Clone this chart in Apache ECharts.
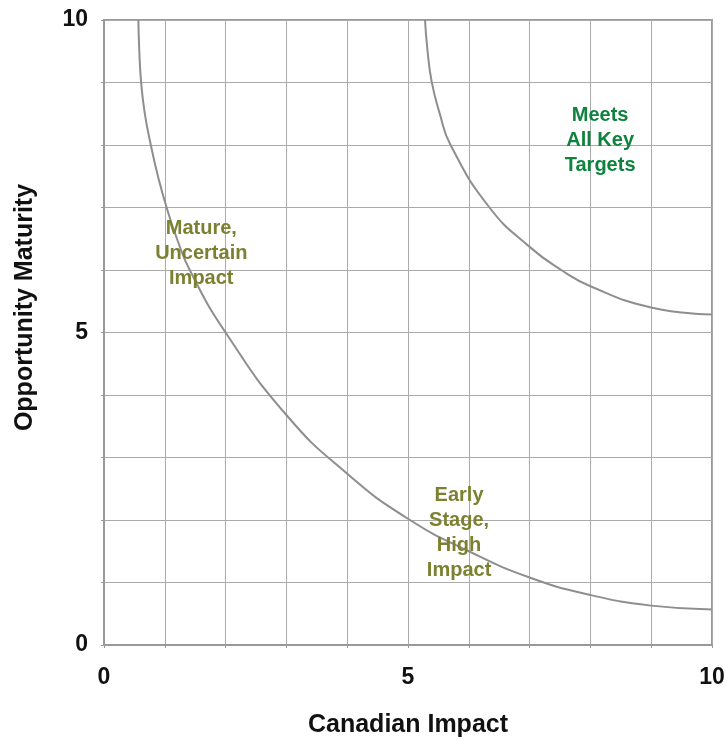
<!DOCTYPE html>
<html>
<head>
<meta charset="utf-8">
<script src="https://cdn.jsdelivr.net/npm/echarts@6/dist/echarts.min.js"></script>
<style>
html,body{margin:0;padding:0;background:#fff;overflow:hidden;}
#chart{width:727px;height:740px;}
</style>
</head>
<body>
<div id="chart"></div>
<script>
// Lower boundary curve (Canadian Impact x, Opportunity Maturity y)
var lowCurveX = [0.565, 0.58, 0.61, 0.67, 0.77, 0.89, 1.03, 1.2, 1.41, 2.0, 3.0, 4.0, 5.0, 6.0, 7.0, 8.0, 9.0, 10.0];
var lowCurveY = [10, 9.52, 9.01, 8.51, 8.0, 7.49, 7.0, 6.5, 6.0, 5.0, 3.68, 2.74, 2.02, 1.50, 1.08, 0.80, 0.63, 0.57];
// Upper boundary curve
var highCurveX = [5.28, 5.32, 5.39, 5.52, 5.70, 6.34, 7.0, 7.52, 8.0, 9.0, 10.0];
var highCurveY = [10, 9.52, 9.01, 8.51, 8.0, 7.0, 6.37, 6.0, 5.74, 5.40, 5.29];
// Region labels
var regionNames = ['Mature,\nUncertain\nImpact', 'Early\nStage,\nHigh\nImpact', 'Meets\nAll Key\nTargets'];
var regionX = [1.60, 5.84, 8.16];
var regionY = [6.27, 1.79, 8.08];
var regionColors = ['#7c8131', '#7c8131', '#0f833d'];
// Axis
var axisMin = 0, axisMax = 10, gridStep = 1;
var tickLabels = [0, 5, 10];

function zip(xs, ys){ return xs.map(function(x,i){ return [x, ys[i]]; }); }

var FONT = 'Arial, "Liberation Sans", sans-serif';
var chart = echarts.init(document.getElementById('chart'));

var labelData = regionNames.map(function(n, i){
  return {
    value: [regionX[i], regionY[i]],
    label: { show: true, formatter: n, color: regionColors[i] }
  };
});

function axisCommon(){
  return {
    type: 'value', min: axisMin, max: axisMax, interval: gridStep,
    axisLine: { show: true, lineStyle: { color: '#999', width: 2 } },
    axisTick: { show: true, length: 3, lineStyle: { color: '#999' } },
    splitLine: { show: true, lineStyle: { color: '#aaa', width: 1 } },
    axisLabel: {
      fontFamily: FONT, fontWeight: 'bold', fontSize: 23, color: '#111',
      formatter: function(v){ return tickLabels.indexOf(v) >= 0 ? String(v) : ''; }
    },
    nameTextStyle: { fontFamily: FONT, fontWeight: 'bold', fontSize: 25, color: '#111' },
    nameLocation: 'middle'
  };
}

var xAx = axisCommon();
xAx.name = 'Canadian Impact';
xAx.nameGap = 68;
xAx.axisLabel.margin = 21;

var yAx = axisCommon();
yAx.name = 'Opportunity Maturity';
yAx.nameGap = 66;
yAx.axisLabel.margin = 16;
yAx.nameTextStyle.padding = [0, 0, 0, 50];

chart.setOption({
  animation: false,
  backgroundColor: '#fff',
  grid: {
    left: 104, right: 15, top: 20, bottom: 95, show: true,
    borderColor: '#999', borderWidth: 2,
    containLabel: false, outerBoundsMode: 'none'
  },
  xAxis: xAx,
  yAxis: yAx,
  series: [
    {
      type: 'line', data: zip(lowCurveX, lowCurveY), smooth: 0.5, symbol: 'none',
      lineStyle: { color: '#8e8e8e', width: 2 }, z: 3
    },
    {
      type: 'line', data: zip(highCurveX, highCurveY), smooth: 0.5, symbol: 'none',
      lineStyle: { color: '#8e8e8e', width: 2 }, z: 3
    },
    {
      type: 'scatter', data: labelData, symbolSize: 0, z: 5,
      itemStyle: { opacity: 1 },
      label: {
        show: true, position: 'inside', fontFamily: FONT, fontWeight: 'bold',
        fontSize: 20, lineHeight: 25, align: 'center', verticalAlign: 'middle', opacity: 1
      }
    }
  ]
});
</script>
</body>
</html>
